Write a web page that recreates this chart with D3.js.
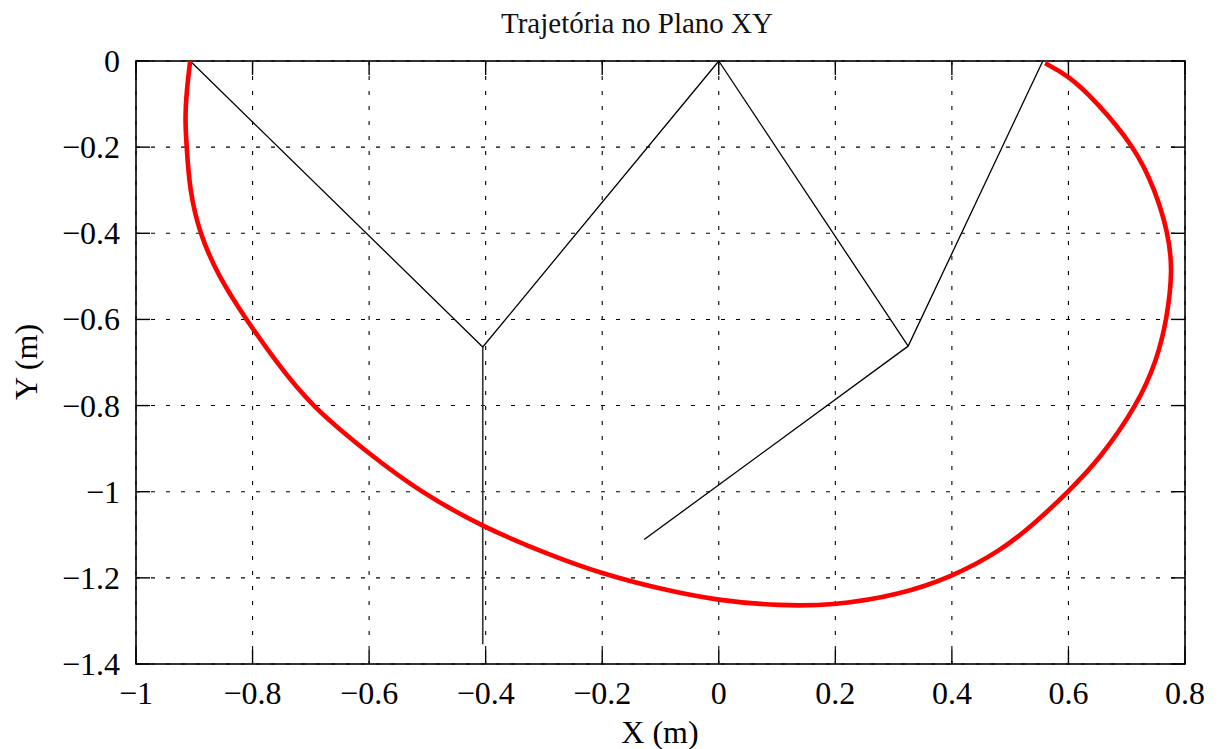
<!DOCTYPE html>
<html><head><meta charset="utf-8">
<script src="https://cdn.jsdelivr.net/npm/d3@7"></script>
<style>body{margin:0;background:#fff}</style>
</head><body><svg id="c" width="1221" height="749"></svg>
<script>
const xTicks = [-1,-0.8,-0.6,-0.4,-0.2,0,0.2,0.4,0.6,0.8];
const xTickLabels = ["\u22121","\u22120.8","\u22120.6","\u22120.4","\u22120.2","0","0.2","0.4","0.6","0.8"];
const yTicks = [0,-0.2,-0.4,-0.6,-0.8,-1,-1.2,-1.4];
const yTickLabels = ["0","\u22120.2","\u22120.4","\u22120.6","\u22120.8","\u22121","\u22121.2","\u22121.4"];

const trajX = [-0.907,-0.913,-0.916,-0.913,-0.908,-0.891,-0.859,-0.811,-0.762,-0.701,-0.602,-0.513,-0.405,-0.290,-0.204,-0.101,-0.001,0.105,0.199,0.311,0.400,0.483,0.541,0.599,0.655,0.718,0.752,0.769,0.779,0.771,0.749,0.714,0.646,0.599,0.560];
const trajY = [0,-0.067,-0.137,-0.200,-0.300,-0.400,-0.499,-0.600,-0.694,-0.799,-0.910,-1.000,-1.082,-1.147,-1.189,-1.226,-1.253,-1.265,-1.264,-1.239,-1.198,-1.138,-1.075,-1.001,-0.922,-0.799,-0.694,-0.599,-0.485,-0.399,-0.300,-0.200,-0.091,-0.033,-0.005];

const armLeftX = [-0.907,-0.405,0];
const armLeftY = [0,-0.664,0];
const stemLeftX = [-0.405,-0.405];
const stemLeftY = [-0.664,-1.354];
const armRightX = [0,0.325,0.556];
const armRightY = [0,-0.662,0];
const stemRightX = [0.325,-0.128];
const stemRightY = [-0.662,-1.111];

const svg = d3.select("#c");
const L=136,R=1185,T=61,B=664;
const x = d3.scaleLinear().domain([-1,0.8]).range([L,R]);
const y = d3.scaleLinear().domain([-1.4,0]).range([B,T]);
const font = "'Liberation Serif','Times New Roman',serif";

// grid
const g = svg.append("g");
xTicks.forEach(t=>{
  g.append("line").attr("x1",x(t)).attr("x2",x(t)).attr("y1",T).attr("y2",B)
   .attr("stroke","#000").attr("stroke-width",1.1).attr("stroke-dasharray","4,11");
});
yTicks.forEach(t=>{
  g.append("line").attr("x1",L).attr("x2",R).attr("y1",y(t)).attr("y2",y(t))
   .attr("stroke","#000").attr("stroke-width",1.1).attr("stroke-dasharray","4,11");
});

// box & ticks
const tl = 14;
svg.append("rect").attr("x",L).attr("y",T).attr("width",R-L).attr("height",B-T)
  .attr("fill","none").attr("stroke","#000").attr("stroke-width",1.6);
xTicks.forEach(t=>{
  svg.append("line").attr("x1",x(t)).attr("x2",x(t)).attr("y1",B).attr("y2",B-tl).attr("stroke","#000").attr("stroke-width",1.4);
  svg.append("line").attr("x1",x(t)).attr("x2",x(t)).attr("y1",T).attr("y2",T+tl).attr("stroke","#000").attr("stroke-width",1.4);
});
yTicks.forEach(t=>{
  svg.append("line").attr("x1",L).attr("x2",L+tl).attr("y1",y(t)).attr("y2",y(t)).attr("stroke","#000").attr("stroke-width",1.4);
  svg.append("line").attr("x1",R).attr("x2",R-tl).attr("y1",y(t)).attr("y2",y(t)).attr("stroke","#000").attr("stroke-width",1.4);
});

// tick labels
xTicks.forEach((t,i)=>{
  svg.append("text").attr("x",x(t)).attr("y",704).attr("text-anchor","middle")
    .attr("font-family",font).attr("font-size",32).text(xTickLabels[i]);
});
yTicks.forEach((t,i)=>{
  svg.append("text").attr("x",120).attr("y",y(t)+11).attr("text-anchor","end")
    .attr("font-family",font).attr("font-size",32).text(yTickLabels[i]);
});

// labels
svg.append("text").attr("x",660).attr("y",743).attr("text-anchor","middle")
  .attr("font-family",font).attr("font-size",32).text("X (m)");
svg.append("text").attr("transform","translate(37,362) rotate(-90)").attr("text-anchor","middle")
  .attr("font-family",font).attr("font-size",32).text("Y (m)");
svg.append("text").attr("x",637).attr("y",33).attr("text-anchor","middle")
  .attr("font-family",font).attr("font-size",29).attr("fill","#111").text("Trajetória no Plano XY");

// data
function poly(xs,ys,w,c,curve){
  const pts = xs.map((v,i)=>[v,ys[i]]);
  const ln = d3.line().x(d=>x(d[0])).y(d=>y(d[1])).curve(curve || d3.curveLinear);
  svg.append("path").attr("d",ln(pts)).attr("fill","none").attr("stroke",c)
    .attr("stroke-width",w).attr("stroke-linejoin","round").attr("stroke-linecap","butt");
}
poly(armLeftX,armLeftY,1.3,"#000");
poly(stemLeftX,stemLeftY,1.6,"#333");
poly(armRightX,armRightY,1.3,"#000");
poly(stemRightX,stemRightY,1.3,"#000");
poly(trajX,trajY,4.6,"#ff0000",d3.curveBasis);
</script></body></html>
